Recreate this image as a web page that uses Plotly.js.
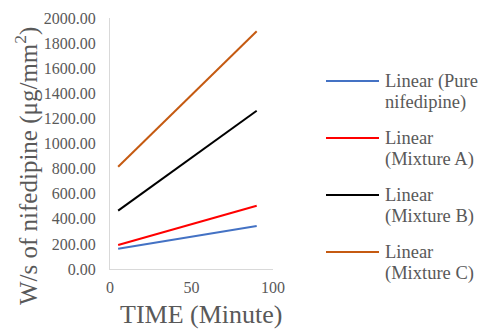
<!DOCTYPE html>
<html>
<head>
<meta charset="utf-8">
<script src="https://cdn.plot.ly/plotly-3.0.1.min.js"></script>
<style>html,body{margin:0;padding:0;background:#fff;}#chart{width:478px;height:329px;}</style>
</head>
<body>
<div id="chart"></div>
<script>
const seriesNames = ["Linear (Pure<br>nifedipine)", "Linear<br>(Mixture A)", "Linear<br>(Mixture B)", "Linear<br>(Mixture C)"];
const timeMinutes = [5, 90];
const pureNifedipine = [162, 343];
const mixtureA = [191, 504];
const mixtureB = [465, 1261];
const mixtureC = [815, 1894];
const seriesColors = ["#4472C4", "#FF0000", "#000000", "#C55A11"];
const yTickValues = [0, 200, 400, 600, 800, 1000, 1200, 1400, 1600, 1800, 2000];
const xTickValues = [0, 50, 100];
const xTitle = "TIME (Minute)";
const yTitle = "W/s of nifedipine (μg/mm<sup>2</sup>)";

const FAM = "Liberation Serif";
const GREY = "#595959";

const allSeries = [pureNifedipine, mixtureA, mixtureB, mixtureC];
const traces = allSeries.map((vals, i) => ({
  x: timeMinutes,
  y: vals,
  type: "scatter",
  mode: "lines",
  name: seriesNames[i].replace("<br>", " "),
  showlegend: false,
  line: {color: seriesColors[i], width: 2},
  hoverinfo: "skip"
}));

// plot area in pixels: x 110..273, y 18..269
const plotL = 110, plotR = 273, plotT = 18, plotB = 269;
const px2x = px => (px - plotL) / (plotR - plotL);
const py2y = py => (plotB - py) / (plotB - plotT);

// custom legend (long line samples, Excel-style)
const legendRowY = [81, 138, 195, 252];
const shapes = [];
const annotations = [];
seriesNames.forEach((nm, i) => {
  const yy = legendRowY[i];
  shapes.push({type: "line", xref: "paper", yref: "paper",
    x0: px2x(326), x1: px2x(379), y0: py2y(yy), y1: py2y(yy),
    line: {color: seriesColors[i], width: 2}});
  nm.split("<br>").forEach((part, k) => {
    annotations.push({xref: "paper", yref: "paper", x: px2x(383), y: py2y(yy + 21 * k),
      xanchor: "left", yanchor: "middle", showarrow: false, text: part,
      font: {family: FAM, size: 18.5, color: GREY}});
  });
});
annotations.push({xref: "paper", yref: "paper", x: px2x(201), y: py2y(314),
  xanchor: "center", yanchor: "middle", showarrow: false, text: xTitle,
  font: {family: FAM, size: 26, color: GREY}});
annotations.push({xref: "paper", yref: "paper", x: px2x(27), y: py2y(166),
  xanchor: "center", yanchor: "middle", showarrow: false, text: yTitle, textangle: -90,
  font: {family: FAM, size: 25, color: GREY}});

const layout = {
  width: 478, height: 329,
  margin: {l: plotL, r: 478 - plotR, t: plotT, b: 329 - plotB, pad: 0},
  paper_bgcolor: "#fff", plot_bgcolor: "#fff",
  font: {family: FAM, color: GREY},
  showlegend: false,
  shapes: shapes,
  annotations: annotations,
  xaxis: {
    range: [0, 100], tickvals: xTickValues, ticktext: xTickValues.map(String),
    showgrid: false, zeroline: false, showline: true, linecolor: "#D9D9D9", linewidth: 1,
    ticks: "", ticklabelstandoff: 4, tickfont: {family: FAM, size: 16, color: GREY}
  },
  yaxis: {
    range: [0, 2000], tickvals: yTickValues, ticktext: yTickValues.map(v => v.toFixed(2)),
    showgrid: false, zeroline: false, showline: true, linecolor: "#D9D9D9", linewidth: 1,
    ticks: "", ticklabelstandoff: 10, tickfont: {family: FAM, size: 16, color: GREY}
  }
};
Plotly.newPlot("chart", traces, layout, {staticPlot: true, displayModeBar: false});
</script>
</body>
</html>
